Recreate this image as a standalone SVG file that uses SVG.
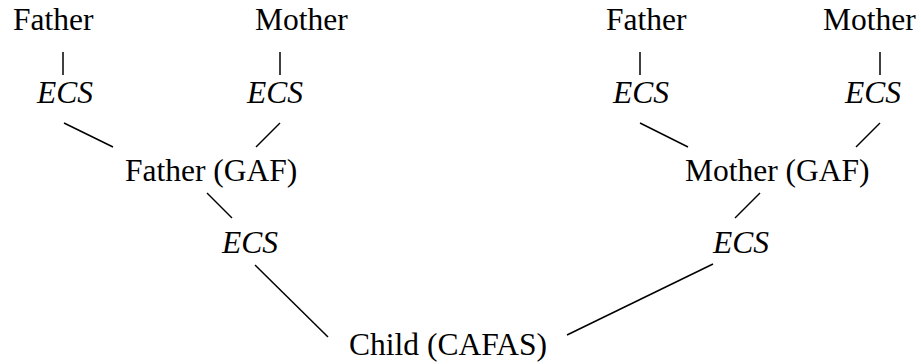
<svg xmlns="http://www.w3.org/2000/svg" width="921" height="364" viewBox="0 0 921 364">
<style>
text{font-family:"Liberation Serif","Times New Roman",serif;font-size:31.5px;fill:#000}
.i{font-style:italic}
line{stroke:#000;stroke-width:1.5}
</style>
<rect width="921" height="364" fill="#fff"/>
<g id="connectors">
<line x1="63" y1="52" x2="63" y2="75"/>
<line x1="280" y1="52" x2="280" y2="75"/>
<line x1="64" y1="123" x2="113" y2="147"/>
<line x1="280" y1="123" x2="256" y2="147"/>
<line x1="207" y1="193" x2="232" y2="218"/>
<line x1="255" y1="265" x2="328" y2="337"/>
<line x1="640" y1="52" x2="640" y2="75"/>
<line x1="880" y1="52" x2="880" y2="75"/>
<line x1="640" y1="123" x2="688" y2="147"/>
<line x1="880" y1="123" x2="856" y2="147"/>
<line x1="760" y1="193" x2="735" y2="218"/>
<line x1="713" y1="264" x2="567" y2="335"/>
</g>
<g id="ff"><text x="13" y="30">Father</text></g>
<g id="fm"><text x="255" y="30">Mother</text></g>
<g id="ecs1"><text class="i" x="37" y="103">ECS</text></g>
<g id="ecs2"><text class="i" x="247" y="103">ECS</text></g>
<g id="fgaf"><text x="125" y="181">Father (GAF)</text></g>
<g id="ecs5"><text class="i" x="222" y="253">ECS</text></g>
<g id="mf"><text x="606" y="30">Father</text></g>
<g id="mm"><text x="823" y="30">Mother</text></g>
<g id="ecs3"><text class="i" x="613" y="103">ECS</text></g>
<g id="ecs4"><text class="i" x="845" y="103">ECS</text></g>
<g id="mgaf"><text x="685" y="181">Mother (GAF)</text></g>
<g id="ecs6"><text class="i" x="713" y="253">ECS</text></g>
<g id="child"><text x="349" y="355">Child (CAFAS)</text></g>
</svg>
